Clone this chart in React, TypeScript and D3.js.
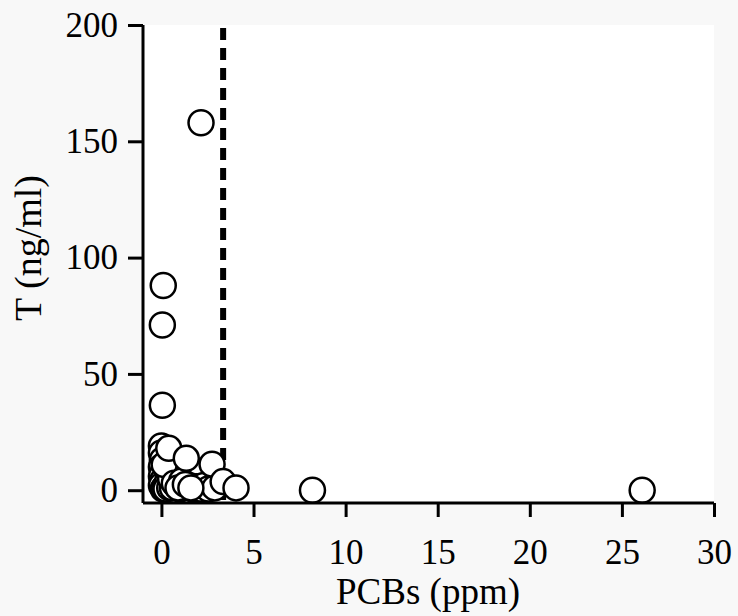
import React, { useEffect, useRef } from 'react';
import * as d3 from 'd3';

const W = 738, H = 616;
const PLOT = { left: 143, right: 714, top: 25, bottom: 503 };
const X_DOMAIN: [number, number] = [-1, 30];
const Y_DOMAIN: [number, number] = [-5.5, 200];
const X_TICKS = [0, 5, 10, 15, 20, 25, 30];
const Y_TICKS = [0, 50, 100, 150, 200];
const CUTOFF = 3.35; // dashed reference line, ppm

// PCBs (ppm) vs T (ng/ml) (drawn in this order)
const PCB = [
  0.0, 0.0, 0.05, 0.0, 0.1, 0.0, 0.05, 0.0, 0.1, 0.15, 0.3,
  0.25, 0.45, 0.6, 0.8, 1.0, 1.2, 1.5, 1.7, 1.9, 2.1, 2.3,
  2.55, 2.9, 0.3, 0.5, 0.15, 0.7, 1.1, 0.9, 1.3, 1.6,
  0.4, 1.35, 2.75, 3.35, 4.05,
  2.15, 0.1, 0.05, 0.05, 8.2, 26.1,
];
const T = [
  19, 16, 13, 10, 8, 6, 4, 2, 0.5, 1, 3,
  0.5, 1, 1, 2, 0.5, 1, 2, 0.5, 1.5, 0.5, 2,
  0.5, 1, 9, 5, 11, 3, 4, 1, 2.5, 1,
  18, 13.7, 11.2, 3.7, 1,
  158, 88, 71, 36.5, 0, 0,
];

export default function App() {
  const ref = useRef<SVGSVGElement>(null);

  useEffect(() => {
    const svg = d3.select(ref.current);
    svg.selectAll('*').remove();

    const x = d3.scaleLinear().domain(X_DOMAIN).range([PLOT.left, PLOT.right]);
    const y = d3.scaleLinear().domain(Y_DOMAIN).range([PLOT.bottom, PLOT.top]);
    const font = '"Liberation Serif", "Times New Roman", serif';

    svg.append('rect').attr('width', W).attr('height', H).attr('fill', '#f8f8f8');
    svg.append('rect')
      .attr('x', PLOT.left).attr('y', PLOT.top)
      .attr('width', PLOT.right - PLOT.left).attr('height', PLOT.bottom - PLOT.top)
      .attr('fill', '#fff');

    // dashed cutoff
    svg.append('line')
      .attr('x1', x(CUTOFF)).attr('x2', x(CUTOFF))
      .attr('y1', PLOT.top + 3).attr('y2', PLOT.bottom)
      .attr('stroke', '#000').attr('stroke-width', 6).attr('stroke-dasharray', '12,8');

    // points
    const pts = PCB.map((p, i) => ({ p, t: T[i] }));
    svg.append('g').selectAll('circle').data(pts).join('circle')
      .attr('cx', d => x(d.p)).attr('cy', d => y(d.t)).attr('r', 12.5)
      .attr('fill', '#fff').attr('stroke', '#000').attr('stroke-width', 2.5);

    // axes
    const xAxis = svg.append('g').attr('transform', `translate(0,${PLOT.bottom})`)
      .call(d3.axisBottom(x).tickValues(X_TICKS).tickSize(14).tickPadding(22).tickSizeOuter(0));
    const yAxis = svg.append('g').attr('transform', `translate(${PLOT.left},0)`)
      .call(d3.axisLeft(y).tickValues(Y_TICKS).tickSize(15).tickPadding(10).tickSizeOuter(0));
    [xAxis, yAxis].forEach(a => {
      a.selectAll('path, line').attr('stroke', '#000').attr('stroke-width', 3);
      a.selectAll('text').attr('fill', '#000').attr('font-family', font).attr('font-size', 35);
    });
    xAxis.select('path').attr('d', `M${PLOT.left},0H${PLOT.right}`);
    yAxis.select('path').attr('d', `M0,${y(Y_DOMAIN[0])}V${PLOT.top}`);

    svg.append('text')
      .attr('x', 428).attr('y', 604)
      .attr('text-anchor', 'middle').attr('font-family', font).attr('font-size', 37)
      .text('PCBs (ppm)');
    svg.append('text')
      .attr('transform', `translate(41,248) rotate(-90)`)
      .attr('text-anchor', 'middle').attr('font-family', font).attr('font-size', 38)
      .text('T (ng/ml)');
  }, []);

  return (
    <svg ref={ref} width={W} height={H} style={{ position: 'absolute', left: 0, top: 0 }} />
  );
}
